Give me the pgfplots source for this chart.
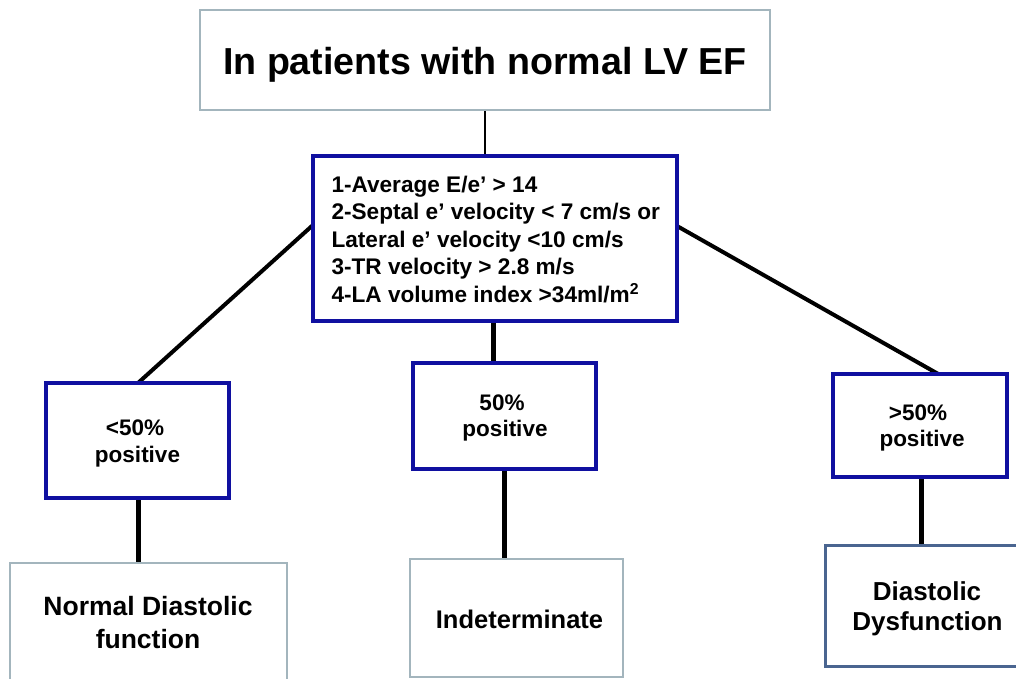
\documentclass[border=0pt]{standalone}
\usepackage{fontspec}
\setmainfont{Liberation Sans}
\usepackage{pgfplots}
\pgfplotsset{compat=1.18}
\definecolor{navyb}{RGB}{16,16,160}
\definecolor{lightb}{RGB}{163,181,189}
\definecolor{steelb}{RGB}{74,101,144}
\begin{document}
\begin{tikzpicture}
\begin{axis}[
  name=main,
  width=1016pt, height=679pt, scale only axis,
  xmin=0, xmax=1016, ymin=0, ymax=679, y dir=reverse,
  hide axis, clip=true, no markers,
  every node/.style={inner sep=0pt, outer sep=0pt, font=\bfseries}
]
% connectors
\addplot[black, line width=1.2pt] coordinates {(485,110) (485,157)};
\addplot[black, line width=4pt] coordinates {(313,225) (138,383)};
\addplot[black, line width=4pt] coordinates {(677,226) (940,375)};
\addplot[black, line width=5pt] coordinates {(493,321) (493,363)};
\addplot[black, line width=5pt] coordinates {(138,498) (138,563)};
\addplot[black, line width=5pt] coordinates {(504,469) (504,559)};
\addplot[black, line width=5pt] coordinates {(921,477) (921,545)};
% boxes
\addplot[draw=lightb, fill=white, line width=2pt] coordinates {(200,10) (770,10) (770,110) (200,110)} --cycle;
\addplot[draw=navyb, fill=white, line width=4pt] coordinates {(313,156) (677,156) (677,321) (313,321)} --cycle;
\addplot[draw=navyb, fill=white, line width=4pt] coordinates {(46,383) (229,383) (229,498) (46,498)} --cycle;
\addplot[draw=navyb, fill=white, line width=4pt] coordinates {(413,363) (596,363) (596,469) (413,469)} --cycle;
\addplot[draw=navyb, fill=white, line width=4pt] coordinates {(833,374) (1007,374) (1007,477) (833,477)} --cycle;
\addplot[draw=lightb, fill=white, line width=2pt] coordinates {(10,563) (287,563) (287,720) (10,720)} --cycle;
\addplot[draw=lightb, fill=white, line width=2pt] coordinates {(410,559) (623,559) (623,677) (410,677)} --cycle;
\addplot[draw=steelb, fill=white, line width=3pt] coordinates {(825,545) (1040,545) (1040,666) (825,666)} --cycle;
% texts
\node[anchor=base, font=\fontsize{37.6}{40}\selectfont\bfseries] at (axis cs:485,75) {In patients with normal LV EF};
\node[anchor=base west, font=\fontsize{22.6}{27}\selectfont\bfseries] at (axis cs:328,192) {1-Average E/e’ > 14};
\node[anchor=base west, font=\fontsize{22.6}{27}\selectfont\bfseries] at (axis cs:328,219.5) {2-Septal e’ velocity < 7 cm/s or};
\node[anchor=base west, font=\fontsize{22.6}{27}\selectfont\bfseries] at (axis cs:328,247) {Lateral e’ velocity <10 cm/s};
\node[anchor=base west, font=\fontsize{22.6}{27}\selectfont\bfseries] at (axis cs:328,274.5) {3-TR velocity > 2.8 m/s};
\node[anchor=base west, font=\fontsize{22.6}{27}\selectfont\bfseries] at (axis cs:328,302) {4-LA volume index >34ml/m\textsuperscript{2}};
\node[anchor=base, font=\fontsize{22.5}{27}\selectfont\bfseries] at (axis cs:135,435) {<50\%};
\node[anchor=base, font=\fontsize{22.5}{27}\selectfont\bfseries] at (axis cs:137.5,462) {positive};
\node[anchor=base, font=\fontsize{22.5}{27}\selectfont\bfseries] at (axis cs:502,410) {50\%};
\node[anchor=base, font=\fontsize{22.5}{27}\selectfont\bfseries] at (axis cs:505,436) {positive};
\node[anchor=base, font=\fontsize{22.5}{27}\selectfont\bfseries] at (axis cs:918,420) {>50\%};
\node[anchor=base, font=\fontsize{22.5}{27}\selectfont\bfseries] at (axis cs:922,446) {positive};
\node[anchor=base, font=\fontsize{26.5}{31}\selectfont\bfseries] at (axis cs:148,615) {Normal Diastolic};
\node[anchor=base, font=\fontsize{26.5}{31}\selectfont\bfseries] at (axis cs:148,648) {function};
\node[anchor=base, font=\fontsize{25.5}{31}\selectfont\bfseries] at (axis cs:519.5,628) {Indeterminate};
\node[anchor=base, font=\fontsize{26}{31}\selectfont\bfseries] at (axis cs:927,600) {Diastolic};
\node[anchor=base, font=\fontsize{26}{31}\selectfont\bfseries] at (axis cs:927.5,630) {Dysfunction};
\end{axis}
\pgfresetboundingbox
\useasboundingbox (main.south west) rectangle (main.north east);
\end{tikzpicture}
\end{document}
